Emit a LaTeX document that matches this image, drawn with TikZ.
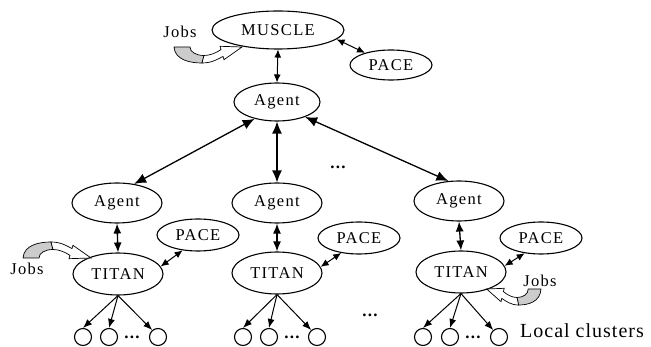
\documentclass[tikz,border=0pt]{standalone}
\usepackage{fontspec}
\setmainfont{Liberation Serif}[LetterSpace=8]
\newfontfamily\bigfont{Liberation Serif}[LetterSpace=5]
\usetikzlibrary{shapes.geometric,arrows.meta}
\tikzset{
  ell/.style={ellipse,draw,line width=1.1pt,inner sep=0pt,font=\fontsize{16.5}{18}\selectfont},
  leaf/.style={circle,draw,line width=1.1pt,minimum size=17pt,inner sep=0pt},
  lbl/.style={font=\fontsize{16.5}{18}\selectfont,inner sep=0pt,anchor=base},
  dotsl/.style={font=\bfseries\fontsize{17}{18}\selectfont,inner sep=0pt,anchor=base},
  bigarr/.style={{Latex[length=12pt,width=10pt]}-{Latex[length=12pt,width=10pt]},line width=1.3pt},
  medarr/.style={{Latex[length=10pt,width=8pt]}-{Latex[length=10pt,width=8pt]},line width=1.3pt},
  smarr/.style={{Latex[length=8pt,width=7pt]}-{Latex[length=8pt,width=7pt]},line width=1pt},
  childarr/.style={-{Latex[length=9pt,width=7pt]},line width=1pt},
  jobs/.pic={
    \filldraw[fill=gray!40,line width=0.7pt] (0,0) .. controls (1,13) and (16,16) .. (28,16)
      -- (30,8.5) .. controls (22,8.5) and (16,5) .. (16,0) -- cycle;
    \filldraw[fill=white,line width=0.7pt] (28,16) .. controls (38,16) and (44,12) .. (49,9.4)
      -- (50,12.7) -- (68,0) -- (46,-0.7) -- (47,2.6) .. controls (42,6) and (36,8.5) .. (30,8.5) -- cycle;
  }
}
\begin{document}
\begin{tikzpicture}[x=1pt,y=-1pt]
\useasboundingbox (0,0) rectangle (651,347);
% top level
\node[ell,minimum width=132pt,minimum height=38pt] (muscle) at (278,30) {MUSCLE};
\node[ell,minimum width=82pt,minimum height=30pt] (pace0) at (391,65) {PACE};
\node[ell,minimum width=86pt,minimum height=38pt] (agent0) at (277,102) {Agent};
% middle agents
\node[ell,minimum width=90pt,minimum height=40pt] (agentL) at (117,203) {Agent};
\node[ell,minimum width=90pt,minimum height=40pt] (agentM) at (277,203) {Agent};
\node[ell,minimum width=90pt,minimum height=40pt] (agentR) at (459,201) {Agent};
% paces
\node[ell,minimum width=82pt,minimum height=32pt] (paceL) at (198,235) {PACE};
\node[ell,minimum width=82pt,minimum height=32pt] (paceM) at (359,238) {PACE};
\node[ell,minimum width=82pt,minimum height=32pt] (paceR) at (541,238) {PACE};
% titans
\node[ell,minimum width=90pt,minimum height=42pt] (titanL) at (118,274) {TITAN};
\node[ell,minimum width=90pt,minimum height=42pt] (titanM) at (277,273) {TITAN};
\node[ell,minimum width=90pt,minimum height=42pt] (titanR) at (461,272) {TITAN};
% leaves
\node[leaf] (l1) at (83,337) {};
\node[leaf] (l2) at (109,337) {};
\node[leaf] (l3) at (158,337) {};
\node[leaf] (m1) at (243,337) {};
\node[leaf] (m2) at (269,337) {};
\node[leaf] (m3) at (317,337) {};
\node[leaf] (r1) at (423,337) {};
\node[leaf] (r2) at (450,337) {};
\node[leaf] (r3) at (499,337) {};
% dots
\node[dotsl] (dl) at (132,339) {...};
\node[dotsl] (dm) at (292,339) {...};
\node[dotsl] (dr) at (473,339) {...};
\node[dotsl] (dtop) at (338,169) {...};
\node[dotsl] (dmid) at (370,317) {...};
% labels
\node[font=\bigfont\fontsize{20}{22}\selectfont,inner sep=0pt,anchor=base west] (lc) at (520,338) {Local clusters};
\node[lbl] (jt) at (180,38) {Jobs};
\node[lbl] (jl) at (27,275) {Jobs};
\node[lbl] (jr) at (540,287) {Jobs};
% connectors
\draw[smarr] (muscle.south) -- (agent0.north);
\draw[smarr] (muscle.-9) -- (pace0.155);
\draw[bigarr] (agent0.217) -- (agentL.48);
\draw[bigarr] (agent0.south) -- (agentM.north);
\draw[bigarr] (agent0.-28) -- (agentR.118);
\draw[medarr] (agentL.south) -- (titanL.north);
\draw[medarr] (agentM.south) -- (titanM.north);
\draw[medarr] (agentR.south) -- (titanR.north);
\draw[smarr] (titanL.10) -- (paceL.225);
\draw[smarr] (titanM.8) -- (paceM.220);
\draw[smarr] (titanR.8) -- (paceR.223);
\foreach \t/\a/\b/\c in {titanL/l1/l2/l3,titanM/m1/m2/m3,titanR/r1/r2/r3}{
  \draw[childarr] (\t.south) -- (\a.north);
  \draw[childarr] (\t.south) -- (\b.north);
  \draw[childarr] (\t.south) -- (\c.130);
}
% job arrows
\pic[shift={(174,47)}] {jobs};
\pic[shift={(23,258)},yscale=-1] {jobs};
\pic[shift={(541,289)},xscale=-0.8] {jobs};
\end{tikzpicture}
\end{document}
